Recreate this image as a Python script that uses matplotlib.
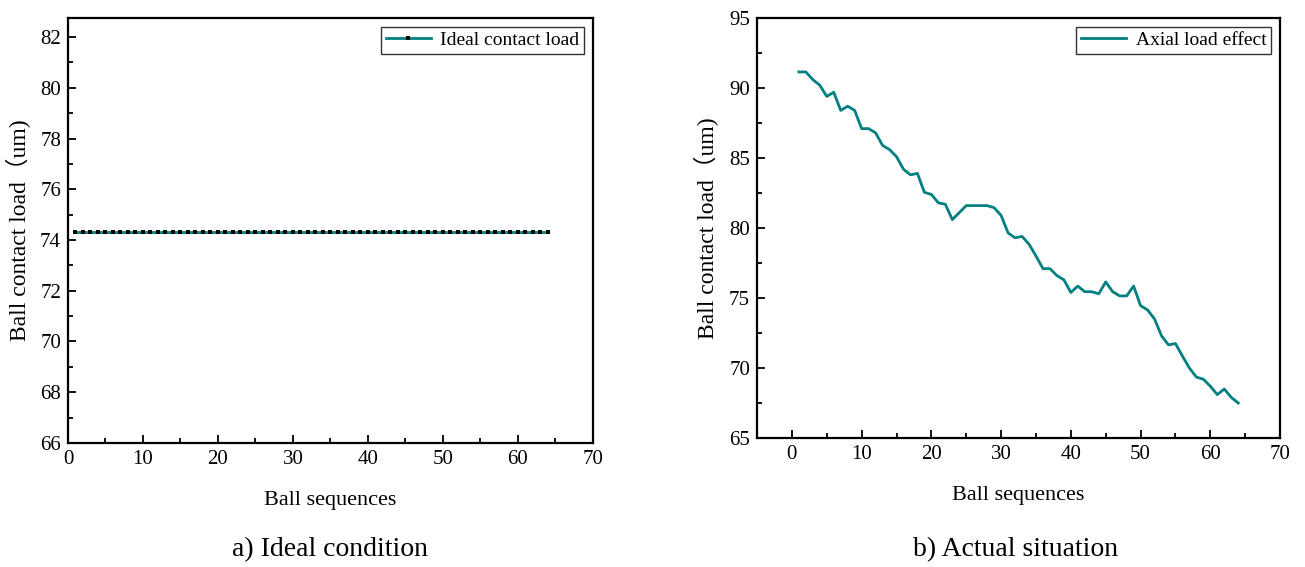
import matplotlib
matplotlib.use("Agg")
import matplotlib.pyplot as plt
from matplotlib.ticker import MultipleLocator

plt.rcParams['font.family'] = ['Liberation Serif', 'Noto Sans CJK SC', 'DejaVu Serif']

ball_idx = list(range(1, 65))
ideal_load = [74.3] * 64
actual_load = [91.15, 91.15, 90.6, 90.2, 89.4, 89.7, 88.4, 88.7, 88.4, 87.1,
               87.1, 86.8, 85.9, 85.6, 85.1, 84.2, 83.8, 83.9, 82.55, 82.4,
               81.8, 81.7, 80.6, 81.1, 81.6, 81.6, 81.6, 81.6, 81.45, 80.9,
               79.65, 79.3, 79.4, 78.85, 78.0, 77.1, 77.1, 76.6, 76.3, 75.4,
               75.85, 75.45, 75.45, 75.3, 76.15, 75.45, 75.15, 75.15, 75.85, 74.45,
               74.15, 73.5, 72.3, 71.65, 71.75, 70.85, 70.0, 69.35, 69.2, 68.7,
               68.1, 68.5, 67.9, 67.5]

teal = '#008080'
fig = plt.figure(figsize=(13.05, 5.67), dpi=100)
axL = fig.add_axes([0.0521, 0.2187, 0.4023, 0.7496])
axR = fig.add_axes([0.5801, 0.2275, 0.4008, 0.7407])

axL.plot(ball_idx, ideal_load, color=teal, lw=2.0, marker='s', ms=2.7,
         mfc='black', mec='black', mew=0, label='Ideal contact load')
axL.set_xlim(0, 70)
axL.set_ylim(66, 82.75)
axL.xaxis.set_major_locator(MultipleLocator(10))
axL.xaxis.set_minor_locator(MultipleLocator(5))
axL.yaxis.set_major_locator(MultipleLocator(2))
axL.yaxis.set_minor_locator(MultipleLocator(1))

axR.plot(ball_idx, actual_load, color=teal, lw=2.0, label='Axial load effect')
axR.set_xlim(-5, 70)
axR.set_ylim(65, 95)
axR.xaxis.set_major_locator(MultipleLocator(10))
axR.xaxis.set_minor_locator(MultipleLocator(5))
axR.yaxis.set_major_locator(MultipleLocator(5))
axR.yaxis.set_minor_locator(MultipleLocator(2.5))

for ax in (axL, axR):
    for s in ax.spines.values():
        s.set_linewidth(1.6)
    ax.tick_params(which='both', direction='in', top=False, right=False,
                   labelsize=15, width=1.3)
    ax.tick_params(which='major', length=6, pad=5)
    ax.tick_params(which='minor', length=3.5)
    ax.set_ylabel('Ball contact load（um)', fontsize=17)
    leg = ax.legend(loc='upper right', fontsize=14, frameon=True, fancybox=False,
                    handlelength=2.3, borderpad=0.25, borderaxespad=0.45,
                    handletextpad=0.5)
    leg.get_frame().set_edgecolor('black')
    leg.get_frame().set_linewidth(1.0)

axL.set_xlabel('Ball sequences', fontsize=16, labelpad=16)
axR.set_xlabel('Ball sequences', fontsize=16, labelpad=16)
axL.yaxis.set_label_coords(-0.07, 0.5)
axR.yaxis.set_label_coords(-0.072, 0.5)

fig.text(0.253, 0.008, 'a) Ideal condition', fontsize=20, ha='center', va='bottom')
fig.text(0.778, 0.008, 'b) Actual situation', fontsize=20, ha='center', va='bottom')

fig.savefig('out.png', dpi=100)
